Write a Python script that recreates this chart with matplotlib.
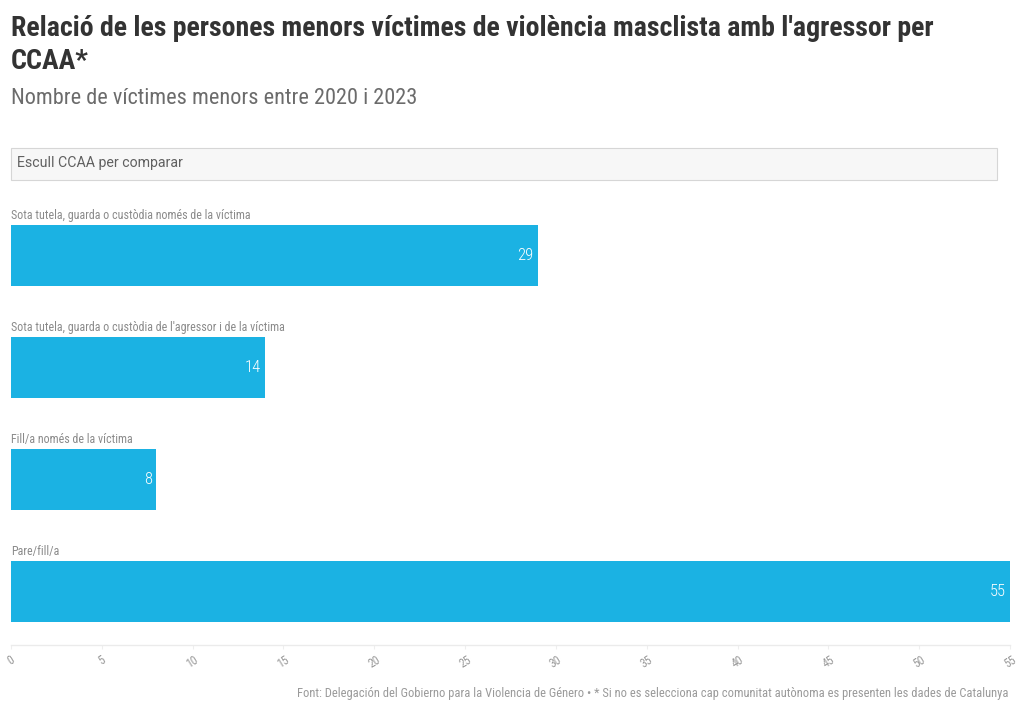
import matplotlib
matplotlib.use("Agg")
import matplotlib.pyplot as plt
from matplotlib import font_manager as fm
from matplotlib.patches import Rectangle

categories = [
    "Sota tutela, guarda o custòdia només de la víctima",
    "Sota tutela, guarda o custòdia de l'agressor i de la víctima",
    "Fill/a només de la víctima",
    "Pare/fill/a",
]
values = [29, 14, 8, 55]
xticks = [0, 5, 10, 15, 20, 25, 30, 35, 40, 45, 50, 55]

title = "Relació de les persones menors víctimes de violència masclista amb l'agressor per\nCCAA*"
subtitle = "Nombre de víctimes menors entre 2020 i 2023"
dropdown_text = "Escull CCAA per comparar"
footer = ("Font: Delegación del Gobierno para la Violencia de Género • * Si no es selecciona "
          "cap comunitat autònoma es presenten les dades de Catalunya")

names = {f.name for f in fm.fontManager.ttflist}
cond = "Roboto"
for n in ["Roboto Condensed", "Liberation Sans Narrow", "Open Sans Condensed"]:
    if n in names:
        cond = n
        break
regular = "Roboto" if "Roboto" in names else "DejaVu Sans"

W, H = 1020, 711
fig = plt.figure(figsize=(W / 100, H / 100), dpi=100)
fig.patch.set_facecolor("white")

def fx(px):
    return px / W

def fy(py):
    return 1 - py / H

# axes
ax_left, ax_right, ax_top, ax_bottom = 11, 1010, 205, 645
ax = fig.add_axes([fx(ax_left), fy(ax_bottom), fx(ax_right - ax_left), (ax_bottom - ax_top) / H])
ypos = list(range(len(categories)))
bar_color = "#1bb2e3"
ax.barh(ypos, values, height=0.545, color=bar_color, edgecolor="none")
ax.set_xlim(0, 55)
ax.set_ylim(3.478, 3.478 - 440 / 112)
ax.set_yticks([])
for s in ["top", "left", "right"]:
    ax.spines[s].set_visible(False)
ax.spines["bottom"].set_color("#ebebeb")
ax.spines["bottom"].set_linewidth(1)
ax.set_xticks(xticks)
ax.set_xticklabels([str(t) for t in xticks], rotation=32, fontsize=8.5,
                   color="#9a9a9a", family=cond)
ax.tick_params(axis="x", length=3, color="#eeeeee", pad=3)
ax.set_facecolor("none")

for i, (c, v) in enumerate(zip(categories, values)):
    ax.text(0, i - 0.353, c, ha="left", va="center", fontsize=8.65, color="#8a8a8a",
            family=cond)
    ax.text(v - 0.22, i, str(v), ha="right", va="center", fontsize=12,
            color="white", family=cond, fontweight="light")

# title and subtitle
fig.text(fx(11), fy(45), title, ha="left", va="center", fontsize=20.1,
         fontweight="bold", color="#333333", family=cond, linespacing=1.3)
fig.text(fx(11), fy(99), subtitle, ha="left", va="center", fontsize=16,
         color="#6b6b6b", family=cond)

# dropdown box
box = Rectangle((fx(11), fy(180)), fx(986), (180 - 148) / H, transform=fig.transFigure,
                facecolor="#f7f7f7", edgecolor="#d6d6d6", linewidth=0.8)
fig.patches.append(box)
fig.text(fx(17), fy(163), dropdown_text, ha="left", va="center", fontsize=10.2,
         color="#606060", family=regular)

# footer
fig.text(fx(1009), fy(693), footer, ha="right", va="center", fontsize=9.0,
         color="#9a9a9a", family=cond)

fig.savefig("out.png", dpi=100, facecolor="white")
